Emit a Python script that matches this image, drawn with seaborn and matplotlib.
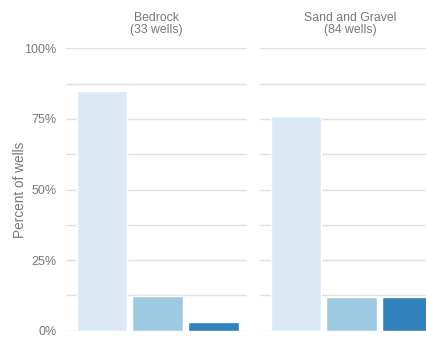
import matplotlib
matplotlib.use("Agg")
import matplotlib.pyplot as plt
from matplotlib.ticker import MultipleLocator, FuncFormatter
import pandas as pd
import seaborn as sns

# Wells by aquifer type and result class
aquifers = ["Bedrock", "Sand and Gravel"]
well_totals = [33, 84]
classes = ["Low", "Moderate", "High"]
bedrock_counts = [28, 4, 1]
sand_gravel_counts = [64, 10, 10]
class_colors = ["#dce9f5", "#9ecae1", "#3182bd"]

sns.set_theme(style="white")
plt.rcParams["font.family"] = ["Liberation Sans", "DejaVu Sans"]

text_color = "#777777"
grid_color = "#e0e0e0"

fig = plt.figure(figsize=(4.27, 3.37), dpi=100)
ax_w = 181 / 427
ax_b = 6.3 / 337
ax_h = 282.4 / 337
axes = [fig.add_axes([66 / 427, ax_b, ax_w, ax_h]),
        fig.add_axes([260 / 427, ax_b, ax_w, ax_h])]

for i, (ax, name, total, counts) in enumerate(
        zip(axes, aquifers, well_totals, [bedrock_counts, sand_gravel_counts])):
    df = pd.DataFrame({
        "class": classes,
        "percent": [c / total * 100 for c in counts],
    })
    sns.barplot(data=df, x="class", y="percent", hue="class",
                palette=class_colors, order=classes, hue_order=classes,
                width=0.9, legend=False, ax=ax, zorder=3, saturation=1)
    ax.set_xlim(-0.64, 2.6)
    ax.set_ylim(0, 100)
    ax.yaxis.set_major_locator(MultipleLocator(25))
    ax.yaxis.set_minor_locator(MultipleLocator(12.5))
    ax.grid(True, axis="y", which="both", color=grid_color, linewidth=1, zorder=0)
    ax.set_axisbelow(True)
    for s in ax.spines.values():
        s.set_visible(False)
    ax.set_xticks([])
    ax.set_xlabel("")
    ax.set_title(f"{name}\n({total} wells)", fontsize=8.8, color=text_color,
                 pad=11, linespacing=1.05)
    ax.tick_params(axis="y", which="both", length=0, pad=7,
                   labelsize=9, labelcolor=text_color)
    if i == 0:
        ax.yaxis.set_major_formatter(FuncFormatter(lambda v, p: f"{v:.0f}%"))
        ax.set_ylabel("Percent of wells", fontsize=9.8, color=text_color)
        ax.yaxis.set_label_coords(-0.215, 0.5)
    else:
        ax.set_yticklabels([])
        ax.set_ylabel("")

fig.savefig("out.png", dpi=100)
